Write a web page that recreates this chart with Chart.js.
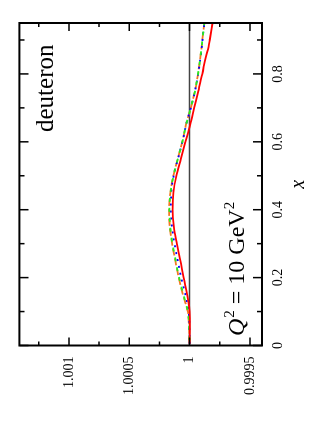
<!DOCTYPE html>
<html>
<head>
<meta charset="utf-8">
<script src="https://cdn.jsdelivr.net/npm/chart.js@4.4.1/dist/chart.umd.min.js"></script>
<style>
html,body{margin:0;padding:0;background:#fff;overflow:hidden;width:311px;height:443px;}
#wrap{position:absolute;left:0;top:0;width:443px;height:311px;transform-origin:0 0;transform:translate(0px,443px) rotate(-90deg);}
</style>
</head>
<body>
<div id="wrap"><canvas id="c" width="443" height="311"></canvas></div>
<script>
// Bjorken x values
const xValues = [0.005, 0.05, 0.1, 0.15, 0.2, 0.25, 0.3, 0.35, 0.4, 0.45, 0.5, 0.55, 0.6, 0.65, 0.7, 0.75, 0.8, 0.85, 0.88, 0.9, 0.95];
// ratio series
const ratioRed    = [1.0, 0.999998, 1.0, 1.000020, 1.000050, 1.000076, 1.000105, 1.000130, 1.000140, 1.000134, 1.000110, 1.000072, 1.000034, 0.999996, 0.999962, 0.999928, 0.999895, 0.999866, 0.999842, 0.999833, 0.999810];
const ratioOrange = [1.0, 1.000003, 1.000015, 1.000055, 1.000090, 1.000118, 1.000145, 1.000164, 1.000170, 1.000160, 1.000135, 1.000098, 1.000060, 1.000030, 0.999990, 0.999955, 0.999930, 0.999910, 0.999900, 0.999894, 0.999878];
const ratioGreen  = [1.0, 1.000003, 1.000014, 1.000052, 1.000087, 1.000115, 1.000142, 1.000161, 1.000167, 1.000158, 1.000133, 1.000097, 1.000059, 1.000029, 0.999990, 0.999955, 0.999930, 0.999910, 0.999900, 0.999894, 0.999878];
const ratioBlue   = [1.0, 1.000001, 1.000008, 1.000035, 1.000070, 1.000098, 1.000125, 1.000146, 1.000155, 1.000152, 1.000132, 1.000097, 1.000059, 1.000029, 0.999990, 0.999955, 0.999929, 0.999909, 0.999899, 0.999893, 0.999877];
const unityLine = [1, 1];
const unityX = [0, 0.95];
// ticks
const xMajorTicks = [0, 0.2, 0.4, 0.6, 0.8];
const xMajorLabels = ['0', '0.2', '0.4', '0.6', '0.8'];
const xMinorTicks = [0.1, 0.3, 0.5, 0.7, 0.9];
const ratioMajorTicks = [0.9995, 1, 1.0005, 1.001];
const ratioMajorLabels = ['0.9995', '1', '1.0005', '1.001'];
const ratioMinorTicks = [0.99975, 1.00025, 1.00075, 1.00125];

const pts = (xs, ys) => xs.map((x, i) => ({x: x, y: ys[i]}));
const SERIF = "'Liberation Serif', 'Times New Roman', serif";

function setTicks(majors, minors) {
  return function(scale) {
    const t = majors.map(v => ({value: v, major: true})).concat(minors.map(v => ({value: v, major: false})));
    t.sort((a, b) => a.value - b.value);
    scale.ticks = t;
  };
}
function labelFor(majors, labels) {
  return function(value) {
    for (let i = 0; i < majors.length; i++) if (Math.abs(majors[i] - value) < 1e-9) return labels[i];
    return '';
  };
}

const framePlugin = {
  id: 'frame',
  afterDatasetsDraw(chart) {
    const {ctx, chartArea: a} = chart;
    const xs = chart.scales.x, ys = chart.scales.y;
    ctx.save();
    ctx.strokeStyle = '#000';
    ctx.lineWidth = 1.5;
    ctx.beginPath();
    xs.ticks.forEach(t => {
      const p = xs.getPixelForValue(t.value);
      const L = t.major ? 9 : 5;
      ctx.moveTo(p, a.bottom); ctx.lineTo(p, a.bottom - L);
      ctx.moveTo(p, a.top); ctx.lineTo(p, a.top + L);
    });
    ys.ticks.forEach(t => {
      const p = ys.getPixelForValue(t.value);
      const L = t.major ? 8 : 4;
      ctx.moveTo(a.left, p); ctx.lineTo(a.left + L, p);
      ctx.moveTo(a.right, p); ctx.lineTo(a.right - L, p);
    });
    ctx.stroke();
    ctx.lineWidth = 2;
    ctx.strokeRect(a.left, a.top, a.right - a.left, a.bottom - a.top);
    // annotations
    ctx.fillStyle = '#000';
    ctx.textBaseline = 'alphabetic';
    ctx.textAlign = 'left';
    ctx.font = '25px ' + SERIF;
    ctx.fillText('deuteron', 311, 53);
    let u = 107;
    const base = 244;
    ctx.font = 'italic 24px ' + SERIF;
    ctx.fillText('Q', u, base); u += ctx.measureText('Q').width + 1;
    ctx.font = '15px ' + SERIF;
    ctx.fillText('2', u, base - 10); u += ctx.measureText('2').width;
    ctx.font = '24px ' + SERIF;
    const mid = ' = 10 GeV';
    ctx.fillText(mid, u, base); u += ctx.measureText(mid).width;
    ctx.font = '15px ' + SERIF;
    ctx.fillText('2', u, base - 10);
    ctx.restore();
  }
};

new Chart(document.getElementById('c'), {
  type: 'scatter',
  data: {
    datasets: [
      {data: pts(xValues, ratioRed), borderColor: '#ff0000', borderWidth: 1.8, order: 1},
      {data: pts(xValues, ratioGreen), borderColor: '#22ee22', borderWidth: 1.8, borderDash: [4, 6], borderDashOffset: 6, order: 2},
      {data: pts(xValues, ratioBlue), borderColor: '#0000ff', borderWidth: 1.8, borderDash: [2, 5], order: 3},
      {data: pts(xValues, ratioOrange), borderColor: '#f47820', borderWidth: 1.8, borderDash: [7, 3], order: 4},
      {data: pts(unityX, unityLine), borderColor: '#444444', borderWidth: 1.5, order: 5, cubicInterpolationMode: 'default', tension: 0}
    ]
  },
  options: {
    responsive: false,
    devicePixelRatio: 1,
    animation: false,
    events: [],
    showLine: true,
    elements: {
      point: {radius: 0},
      line: {cubicInterpolationMode: 'monotone', fill: false}
    },
    layout: {padding: {left: 0, right: 23, top: 18.5, bottom: 0}},
    plugins: {legend: {display: false}, tooltip: {enabled: false}},
    scales: {
      x: {
        type: 'linear', min: 0, max: 0.95,
        afterBuildTicks: setTicks(xMajorTicks, xMinorTicks),
        afterFit(s) { s.height = 49; },
        grid: {display: false, drawTicks: false},
        border: {display: false},
        ticks: {autoSkip: false, maxRotation: 0, minRotation: 0, padding: 8, color: '#000',
                font: {family: SERIF, size: 14}, callback: labelFor(xMajorTicks, xMajorLabels)},
        title: {display: true, text: 'x', color: '#000', font: {family: SERIF, size: 20, style: 'italic'}, padding: {top: 0, bottom: 0}}
      },
      y: {
        type: 'linear', min: 0.9994, max: 1.00141,
        afterBuildTicks: setTicks(ratioMajorTicks, ratioMinorTicks),
        afterFit(s) { s.width = 97.5; },
        grid: {display: false, drawTicks: false},
        border: {display: false},
        ticks: {autoSkip: false, padding: 11, color: '#000',
                font: {family: SERIF, size: 14}, callback: labelFor(ratioMajorTicks, ratioMajorLabels)}
      }
    }
  },
  plugins: [framePlugin]
});
</script>
</body>
</html>
